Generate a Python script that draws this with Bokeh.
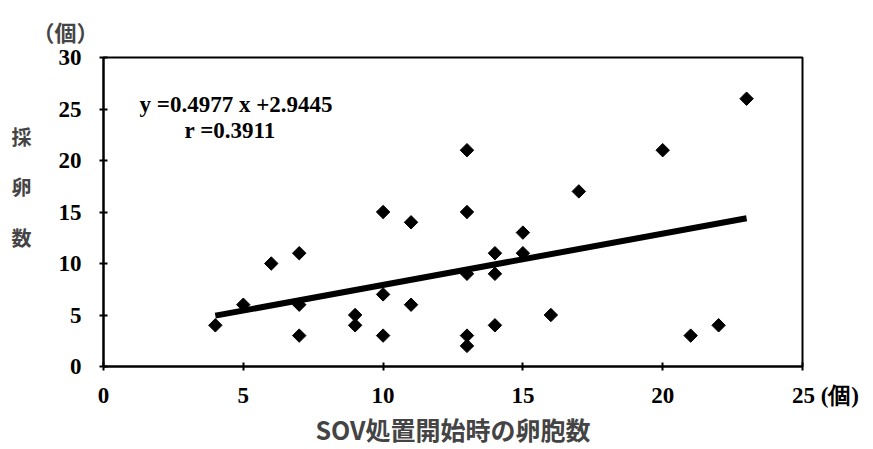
import numpy as np
from bokeh.plotting import figure
from bokeh.models import Range1d, FixedTicker, Label
from bokeh.embed import file_html
from bokeh.resources import INLINE

# data
oocytes = [4, 5, 6, 7, 7, 7, 9, 9, 10, 10, 10, 11, 11, 13, 13, 13, 13, 13,
           14, 14, 14, 15, 15, 16, 17, 20, 21, 22, 23]
eggs = [4, 6, 10, 11, 6, 3, 5, 4, 15, 7, 3, 14, 6, 21, 15, 9, 3, 2,
        11, 9, 4, 13, 11, 5, 17, 21, 3, 4, 26]
slope = 0.4977
intercept = 2.9445
r_value = 0.3911
x_ticks = [0, 5, 10, 15, 20, 25]
y_ticks = [0, 5, 10, 15, 20, 25, 30]
x_title = "SOV処置開始時の卵胞数"
y_title_chars = ["採", "卵", "数"]
unit = "個"

NUM_FONT = "Liberation Serif"
JP_FONT = "Noto Sans CJK JP"

p = figure(width=873, height=449, output_backend="svg", toolbar_location=None,
           x_range=Range1d(0, 25), y_range=Range1d(0, 30),
           min_border_left=103, min_border_right=71,
           min_border_top=57, min_border_bottom=79,
           title="（" + unit + "）")
p.grid.visible = False
p.outline_line_color = "black"
p.outline_line_width = 2
p.background_fill_color = "white"
p.border_fill_color = "white"

p.title.text_font = JP_FONT
p.title.text_font_style = "bold"
p.title.text_font_size = "22px"
p.title.align = "left"
p.title.offset = -71
p.title.standoff = 21

for ax in (p.xaxis[0], p.yaxis[0]):
    ax.axis_line_color = "black"
    ax.axis_line_width = 2
    ax.major_tick_line_width = 2
    ax.major_tick_line_color = "black"
    ax.major_tick_in = 4
    ax.major_tick_out = 4
    ax.minor_tick_line_color = None
    ax.major_label_text_font = NUM_FONT
    ax.major_label_text_font_style = "bold"
    ax.major_label_text_font_size = "23px"
    ax.major_label_text_color = "black"

p.xaxis.ticker = FixedTicker(ticks=x_ticks)
p.yaxis.ticker = FixedTicker(ticks=y_ticks)
p.xaxis.major_label_standoff = 12
p.yaxis.major_label_standoff = 18
# unit marker to the right of the last x tick label
p.xaxis.major_label_overrides = {25: "\u3000\u300025 (" + unit + ")"}

p.xaxis.axis_label = x_title
p.xaxis.axis_label_text_font = JP_FONT
p.xaxis.axis_label_text_font_style = "bold"
p.xaxis.axis_label_text_font_size = "25px"
p.xaxis.axis_label_standoff = 0

p.yaxis.axis_label = "\n".join(y_title_chars) + "\n\u3000"
p.yaxis.axis_label_orientation = "horizontal"
p.yaxis.axis_label_text_font = JP_FONT
p.yaxis.axis_label_text_font_style = "bold"
p.yaxis.axis_label_text_font_size = "20px"
p.yaxis.axis_label_text_line_height = 1.73
p.yaxis.axis_label_standoff = 24

# scatter
p.scatter(oocytes, eggs, marker="square", angle=np.pi / 4, size=9.5,
          fill_color="black", line_color="black")

# regression line
x0, x1 = min(oocytes), max(oocytes)
p.line([x0, x1], [slope * x0 + intercept, slope * x1 + intercept],
       line_color="black", line_width=6)

# equation text
p.add_layout(Label(x=1.29, y=25.4, text=f"y ={slope} x +{intercept}",
                   text_font=NUM_FONT, text_font_style="bold",
                   text_font_size="23px", text_baseline="middle",
                   text_color="black"))
p.add_layout(Label(x=2.9, y=22.9, text=f"r ={r_value}",
                   text_font=NUM_FONT, text_font_style="bold",
                   text_font_size="23px", text_baseline="middle",
                   text_color="black"))

open("out.html", "w").write(file_html(p, INLINE))
